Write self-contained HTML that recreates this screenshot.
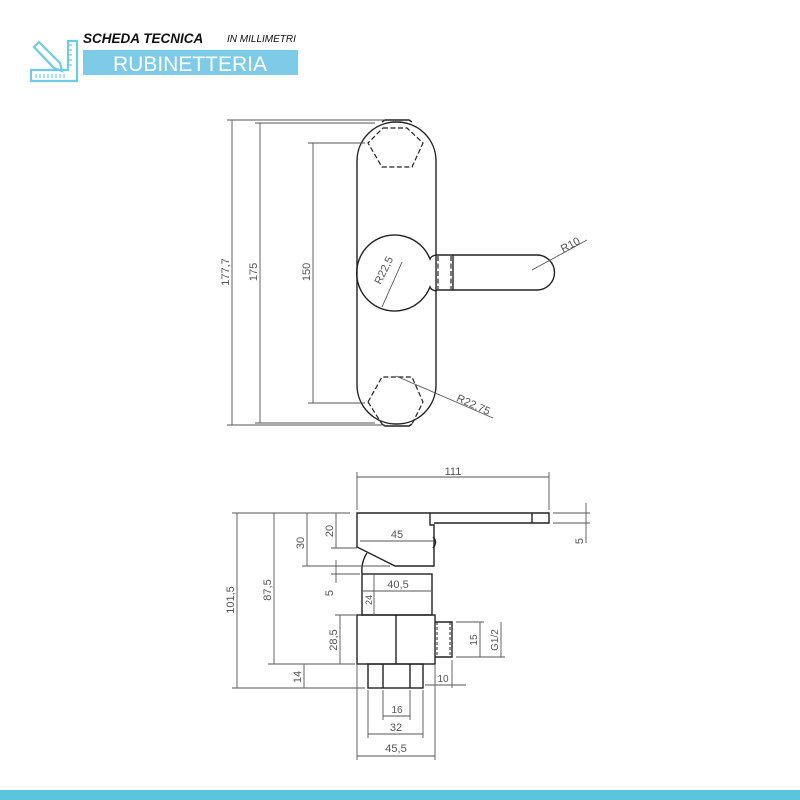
<!DOCTYPE html>
<html><head><meta charset="utf-8"><style>html,body{margin:0;padding:0;background:#fff}svg{display:block}</style></head>
<body>
<svg width="800" height="800" viewBox="0 0 800 800" xmlns="http://www.w3.org/2000/svg" font-family="Liberation Sans, sans-serif">
<rect width="800" height="800" fill="#fff"/>
<rect x="0" y="790" width="800" height="10" fill="#5bc5dc"/>
<g fill="none" stroke="#6fcbe4" stroke-width="2.2">
<path d="M68 41 H77 V81 H31 V70 H68 Z"/>
<path d="M34 47 L39 42 L60 63 L62 71 L54 68 Z"/>
<path d="M36 74v4M40 74v4M44 74v4M48 74v4M52 74v4M56 74v4M60 74v4M64 74v4M72 45h-3M72 50h-3M72 55h-3M72 60h-3M72 65h-3" stroke-width="1.2"/>
</g>
<text x="83" y="43" font-size="13.5" font-weight="bold" font-style="italic" fill="#111">SCHEDA TECNICA</text>
<text x="227" y="42" font-size="10" font-style="italic" fill="#111">IN MILLIMETRI</text>
<rect x="83" y="50" width="215" height="25" fill="#7dcbe6"/>
<text x="190" y="71" font-size="21" fill="#fff" text-anchor="middle">RUBINETTERIA</text>

<g stroke="#222" fill="none" stroke-width="1.4">
<rect x="357" y="122" width="79" height="302" rx="39" ry="39"/>
<path d="M382 122 L385 120 H409 L412 122 M382 424 L385 426 H409 L412 424"/>
<path d="M436 255 Q431 256 430 259 A38 38 0 1 0 430 287 Q431 290 436 291"/>
<path d="M436 255 H453 V290 H436 M453 255 H537 A17.5 17.5 0 0 1 537 290 H453"/>
<g stroke-dasharray="5 2.5" stroke-width="1.2">
<path d="M383 128 H407 L423 143 L412 167 H382 L368 143 Z"/>
<path d="M368 402 L382 377 H412 L423 402 L412 424 M368 402 L382 424"/>
<path d="M438 256 V289 M451 256 V289"/>
</g>
<path d="M357 513 H430 V525 H434 V566 H395 L357 547 Z"/>
<path d="M430 513 H549 V523 H434 M532 513 V523"/>
<path d="M433 537 Q438 542 433 548"/>
<path d="M367 553 Q361 562 362 574"/>
<rect x="362" y="574" width="70" height="41"/>
<rect x="357" y="615" width="78" height="49"/>
<path d="M396 615 V664"/>
<path d="M435 622 H452 V657 H435"/>
<path d="M437 622 V657 M450 622 V657" stroke-dasharray="3 2" stroke-width="1"/>
<rect x="368" y="664" width="55" height="24"/>
<path d="M383 664 V688 M410 664 V688"/>
</g>
<g stroke="#555" stroke-width="0.9" fill="none">
<path d="M232 120 V425 M227 120 H385 M227 425 H385"/>
<path d="M260 123 V423 M255 123 H375 M255 423 H375"/>
<path d="M313 143 V403 M308 143 H365 M308 403 H365"/>
<path d="M402 262 L382 307"/>
<path d="M532 270 L587 240"/>
<path d="M396 376 L493 418"/>
<path d="M357 477 H549 M357 472 V510 M549 472 V510"/>
<path d="M553 513 H590 M553 523 H590 M586 503 V543"/>
<path d="M237 513 V688 M232 513 H350 M232 688 H365"/>
<path d="M274 513 V664 M268 664 H355"/>
<path d="M307 513 V566 M302 566 H390"/>
<path d="M336 513 V548 M331 548 H357 M336 560 V583 M331 574 H360"/>
<path d="M304 664 V688"/>
<path d="M340 615 V664 M335 615 H357"/>
<path d="M374 574 V615"/>
<path d="M360 541 H433 M362 591 H431"/>
<path d="M383 690 V720 M410 690 V720 M383 716 H410"/>
<path d="M368 690 V738 M423 690 V738 M368 734 H423"/>
<path d="M357 664 V760 M435 664 V760 M357 756 H435"/>
<path d="M452 660 V688 M425 685 H466"/>
<path d="M456 622 H484 M456 657 H505 M480 622 V657 M501 622 V657"/>
</g>
<g fill="#555" font-size="11">
<text transform="translate(229 272) rotate(-90)" text-anchor="middle">177,7</text>
<text transform="translate(257 272) rotate(-90)" text-anchor="middle">175</text>
<text transform="translate(310 272) rotate(-90)" text-anchor="middle">150</text>
<text transform="translate(387 272) rotate(-64)" text-anchor="middle" font-size="11">R22,5</text>
<text transform="translate(572 248) rotate(-28)" text-anchor="middle" font-size="11">R10</text>
<text transform="translate(472 408) rotate(24)" text-anchor="middle" font-size="11">R22,75</text>
<text x="453" y="475" text-anchor="middle" font-size="11">111</text>
<text transform="translate(583 541) rotate(-90)" text-anchor="middle">5</text>
<text transform="translate(234 600) rotate(-90)" text-anchor="middle">101,5</text>
<text transform="translate(271 590) rotate(-90)" text-anchor="middle">87,5</text>
<text transform="translate(304 543) rotate(-90)" text-anchor="middle">30</text>
<text transform="translate(333 531) rotate(-90)" text-anchor="middle">20</text>
<text transform="translate(333 593) rotate(-90)" text-anchor="middle">5</text>
<text transform="translate(301 677) rotate(-90)" text-anchor="middle">14</text>
<text transform="translate(337 640) rotate(-90)" text-anchor="middle">28,5</text>
<text transform="translate(372 600) rotate(-90)" text-anchor="middle" font-size="9">24</text>
<text x="397" y="538" text-anchor="middle">45</text>
<text x="398" y="588" text-anchor="middle">40,5</text>
<text x="397" y="713" text-anchor="middle" font-size="10">16</text>
<text x="396" y="731" text-anchor="middle">32</text>
<text x="396" y="752" text-anchor="middle">45,5</text>
<text x="443" y="682" text-anchor="middle" font-size="10">10</text>
<text transform="translate(477 640) rotate(-90)" text-anchor="middle" font-size="10">15</text>
<text transform="translate(498 640) rotate(-90)" text-anchor="middle" font-size="10">G1/2</text>
</g>
</svg>
</body></html>
